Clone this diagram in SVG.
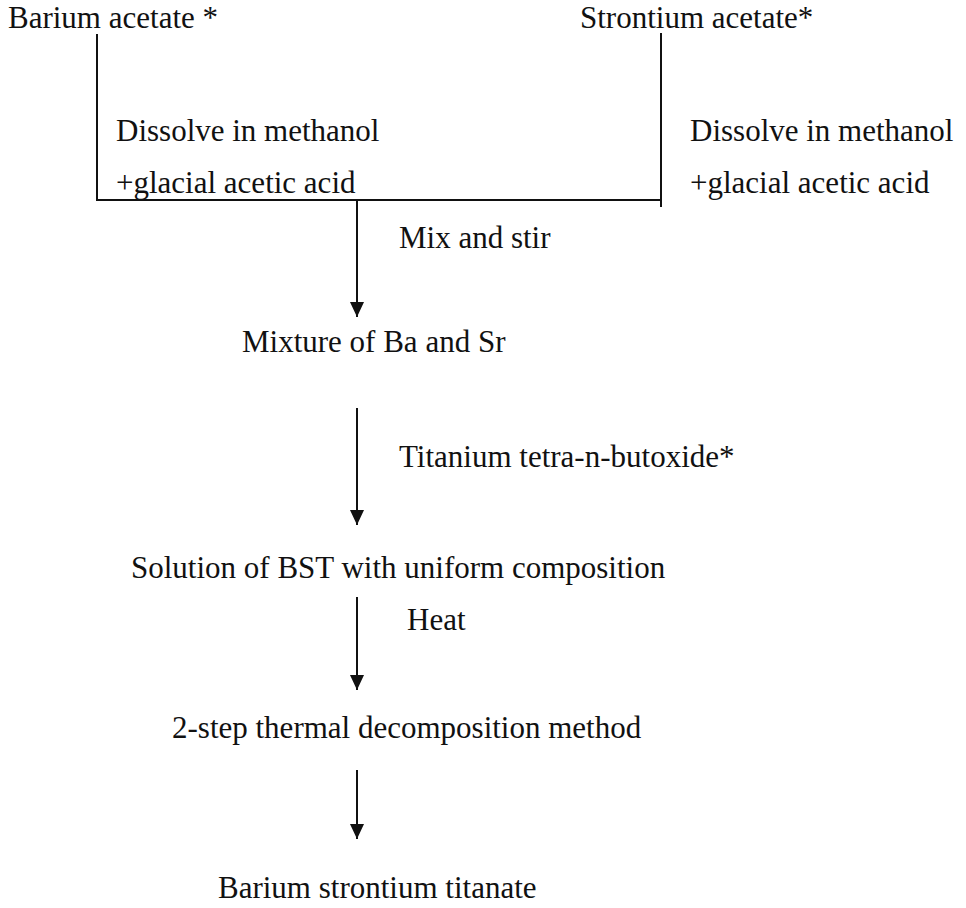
<svg xmlns="http://www.w3.org/2000/svg" width="966" height="908" viewBox="0 0 966 908">
<style>
text { font-family: "Liberation Serif", "Times New Roman", serif; font-size: 31px; fill: #111; }
.ln { stroke: #111; stroke-width: 2; fill: none; }
</style>
<defs>
<marker id="ah" markerUnits="userSpaceOnUse" markerWidth="16" markerHeight="16" viewBox="0 0 16 16" refX="15" refY="8" orient="auto">
<path d="M0,1 L15,8 L0,15 Z" fill="#111"/>
</marker>
</defs>
<rect width="966" height="908" fill="#fff"/>
<g id="connectors">
<path class="ln" d="M97,34 V201"/>
<path class="ln" d="M661,33 V207"/>
<path class="ln" d="M97,200 H661"/>
<path class="ln" d="M357,200 V317" marker-end="url(#ah)"/>
<path class="ln" d="M357,408 V525" marker-end="url(#ah)"/>
<path class="ln" d="M357,597 V690" marker-end="url(#ah)"/>
<path class="ln" d="M357,770 V839" marker-end="url(#ah)"/>
</g>
<g id="barium-acetate"><text x="8" y="28">Barium acetate *</text></g>
<g id="strontium-acetate"><text x="580" y="28">Strontium acetate*</text></g>
<g id="dissolve-left"><text x="116" y="141">Dissolve in methanol</text><text x="116" y="193">+glacial acetic acid</text></g>
<g id="dissolve-right"><text x="690" y="141">Dissolve in methanol</text><text x="690" y="193">+glacial acetic acid</text></g>
<g id="mix-label"><text x="399" y="248">Mix and stir</text></g>
<g id="mixture"><text x="242" y="352">Mixture of Ba and Sr</text></g>
<g id="titanium-label"><text x="399" y="467">Titanium tetra-n-butoxide*</text></g>
<g id="solution"><text x="131" y="578">Solution of BST with uniform composition</text></g>
<g id="heat-label"><text x="407" y="630">Heat</text></g>
<g id="decomposition"><text x="172" y="738">2-step thermal decomposition method</text></g>
<g id="bst"><text x="218" y="898">Barium strontium titanate</text></g>
</svg>
